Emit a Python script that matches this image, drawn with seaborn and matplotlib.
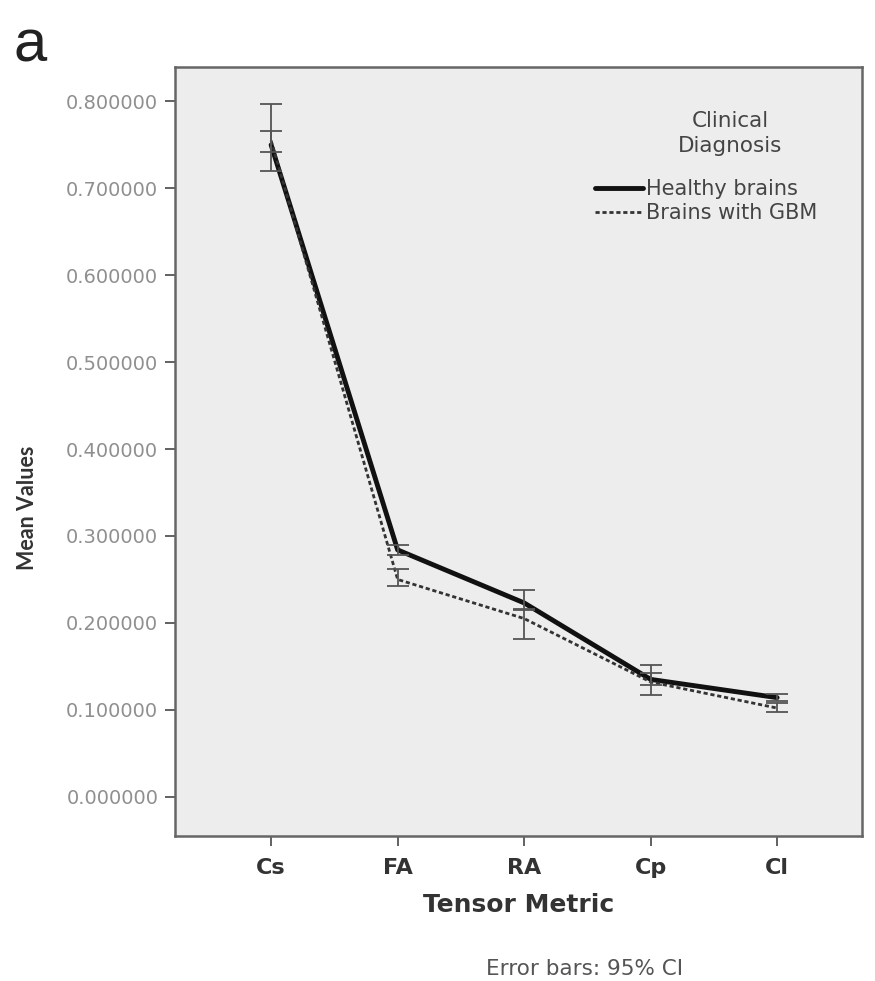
import numpy as np
import pandas as pd
import matplotlib
matplotlib.use("Agg")
import matplotlib.pyplot as plt
import seaborn as sns
from matplotlib.lines import Line2D

metrics = ["Cs", "FA", "RA", "Cp", "Cl"]
groups = ["Healthy brains", "Brains with GBM"]
healthy_mean = [0.750, 0.284, 0.223, 0.135, 0.114]
healthy_lo = [0.742, 0.278, 0.216, 0.128, 0.110]
healthy_hi = [0.766, 0.290, 0.238, 0.142, 0.118]
gbm_mean = [0.755, 0.250, 0.205, 0.132, 0.102]
gbm_lo = [0.720, 0.242, 0.181, 0.117, 0.097]
gbm_hi = [0.797, 0.262, 0.215, 0.152, 0.108]
yticks = [0.0, 0.1, 0.2, 0.3, 0.4, 0.5, 0.6, 0.7, 0.8]

sns.set_theme(style="white")
plt.rcParams['font.family'] = ['DejaVu Sans']

pos = list(range(len(metrics)))
df = pd.DataFrame({
    "pos": pos * 2,
    "value": healthy_mean + gbm_mean,
    "group": [groups[0]] * 5 + [groups[1]] * 5,
})

fig = plt.figure(figsize=(8.75, 9.81), dpi=100)
ax = fig.add_axes([0.2, 0.148, 0.785, 0.784])
ax.set_facecolor("#ededed")

sns.lineplot(data=df, x="pos", y="value", hue="group", style="group",
             hue_order=groups, style_order=groups,
             palette={groups[0]: "#111111", groups[1]: "#333333"},
             dashes={groups[0]: "", groups[1]: (1.5, 1.0)},
             size="group", sizes={groups[0]: 3.5, groups[1]: 2.0},
             ax=ax, legend=False)

for mean, lo, hi in [(healthy_mean, healthy_lo, healthy_hi), (gbm_mean, gbm_lo, gbm_hi)]:
    m = np.array(mean)
    ax.errorbar(pos, m, yerr=[m - np.array(lo), np.array(hi) - m], fmt="none",
                ecolor="#555555", elinewidth=1.3, capsize=8, capthick=1.3, zorder=3)

ax.set_xlim(-0.76, 4.67)
ax.set_ylim(-0.045, 0.84)
ax.set_xticks(pos)
ax.set_xticklabels(metrics, fontsize=16, fontweight="bold", color="#333333")
ax.set_yticks(yticks)
ax.set_yticklabels([f"{v:.6f}" for v in yticks], fontsize=14, color="#8f8f8f")
ax.tick_params(axis="both", direction="out", length=7, width=1.3, color="#555555", left=True, bottom=True)
ax.tick_params(axis="x", pad=9)
ax.tick_params(axis="y", pad=5)
for s in ax.spines.values():
    s.set_color("#666666")
    s.set_linewidth(1.8)

ax.set_xlabel("Tensor Metric", fontsize=18, fontweight="bold", color="#333333", labelpad=11)
ax.set_ylabel("Mean Values", fontsize=15.5, fontweight="bold", color="#333333",
              family=["Lato", "DejaVu Sans"])
ax.yaxis.set_label_coords(-0.2, 0.427)

ax.text(0.808, 0.913, "Clinical\nDiagnosis", transform=ax.transAxes, ha="center", va="center",
        fontsize=15.5, color="#444444", linespacing=1.3)

handles = [Line2D([], [], color="#111111", lw=3.5),
           Line2D([], [], color="#333333", lw=2.0, linestyle=(0, (1.5, 1.0)))]
leg = ax.legend(handles, groups, frameon=False,
                loc="upper left", bbox_to_anchor=(0.612, 0.854),
                borderaxespad=0, borderpad=0,
                prop={"size": 15},
                handlelength=2.3, handletextpad=0.15,
                labelspacing=0.2, labelcolor="#444444")

fig.text(0.015, 0.937, "a", fontsize=43, color="#222222", family="Liberation Sans")
fig.text(0.668, 0.006, "Error bars: 95% CI", fontsize=15.5, color="#555555", ha="center")

fig.savefig("out.png", dpi=100, facecolor="white")
